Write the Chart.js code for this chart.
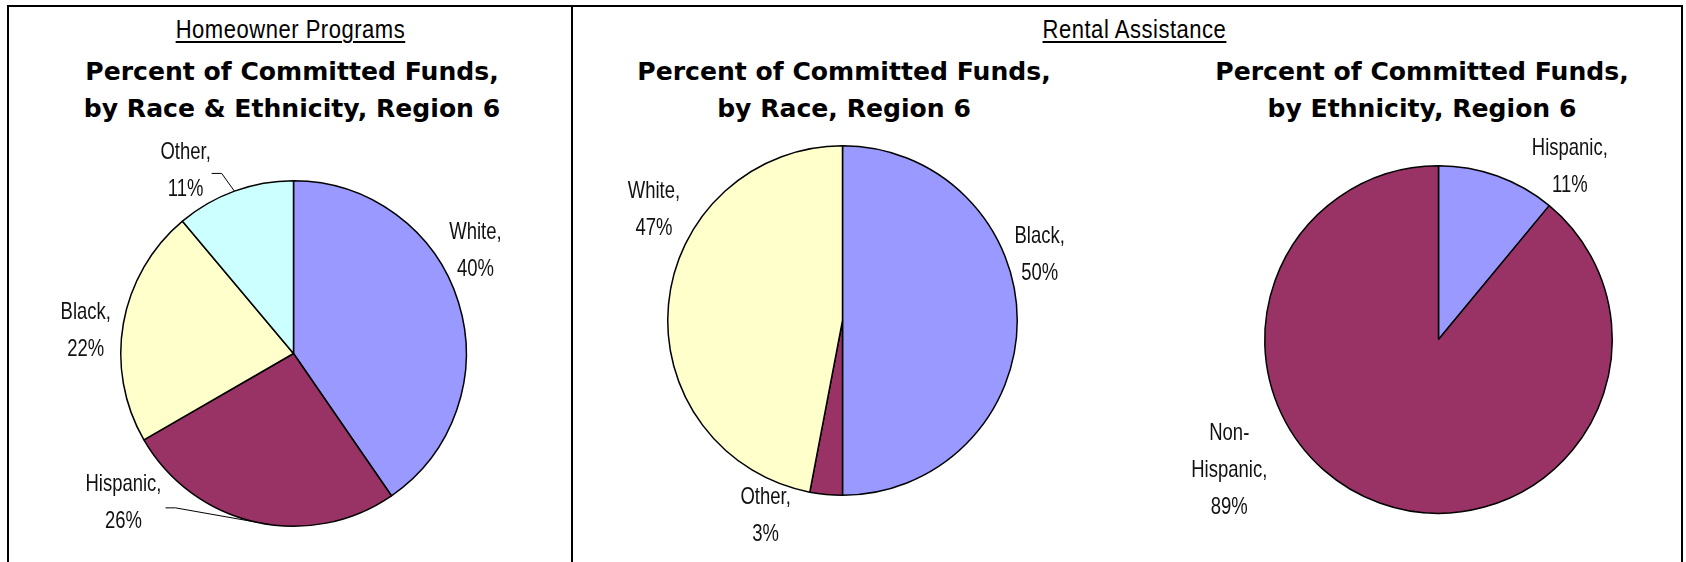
<!DOCTYPE html>
<html>
<head>
<meta charset="utf-8">
<script src="https://cdn.jsdelivr.net/npm/chart.js@4"></script>
<style>
  body { margin: 0; background: #fff; width: 1686px; height: 562px; overflow: hidden; position: relative; }
  .frame { position: absolute; left: 7px; top: 5px; width: 1672px; height: 600px; border: 2px solid #000; border-bottom: none; }
  .divider { position: absolute; left: 571px; top: 5px; width: 2px; height: 557px; background: #000; }
  .section { position: absolute; width: 600px; text-align: center; top: 14px; line-height: 30px;
    font-family: "Liberation Sans", Arial, sans-serif; font-size: 25px; letter-spacing: 0.6px; color: #000; }
  .section span { display: inline-block; transform: scaleX(0.88); text-decoration: underline;
    text-decoration-thickness: 2px; text-underline-offset: 3px; }
  .title { position: absolute; width: 600px; text-align: center; top: 54px; line-height: 36.5px;
    font-family: "DejaVu Sans", sans-serif; font-weight: bold; font-size: 25.1px; color: #000; }
  canvas { position: absolute; }
</style>
</head>
<body>
<div class="frame"></div>
<div class="divider"></div>

<div class="section" style="left:-10px"><span>Homeowner Programs</span></div>
<div class="section" style="left:834px"><span>Rental Assistance</span></div>

<div class="title" style="left:-8px">Percent of Committed Funds,<br>by Race &amp; Ethnicity, Region 6</div>
<div class="title" style="left:544px">Percent of Committed Funds,<br>by Race, Region 6</div>
<div class="title" style="left:1122px">Percent of Committed Funds,<br>by Ethnicity, Region 6</div>

<canvas id="home-chart" width="558" height="422" style="left:12px; top:140px"></canvas>
<canvas id="race-chart" width="550" height="422" style="left:574px; top:140px"></canvas>
<canvas id="eth-chart" width="557" height="432" style="left:1124px; top:130px"></canvas>

<script>
// homeowner programs, race & ethnicity
const homeCategories = ["White", "Hispanic", "Black", "Other"];
const homeValues = [40, 26, 22, 11];

// rental assistance, race
const raceCategories = ["Black", "Other", "White"];
const raceValues = [50, 3, 47];

// rental assistance, ethnicity
const ethCategories = ["Hispanic", "Non-Hispanic"];
const ethValues = [11, 89];

const BLUE = "#9999FF";
const PLUM = "#993366";
const CREAM = "#FFFFCC";
const AQUA = "#CCFFFF";

// narrow look: regular sans squeezed sideways
const LABEL_FONT = '24px "Liberation Sans", Arial, sans-serif';
const LABEL_SQUEEZE = 0.77;
const LINE_GAP = 37;

function labelLines(name, value) {
  let lines;
  if (name.includes("-")) {
    const cut = name.indexOf("-") + 1;
    lines = [name.slice(0, cut), name.slice(cut) + ","];
  } else {
    lines = [name + ","];
  }
  lines.push(value + "%");
  return lines;
}

// draws "Name, / NN%" outside each slice, with optional leader lines
const outsideLabels = {
  id: "outsideLabels",
  afterDatasetsDraw(chart, args, opts) {
    const ctx = chart.ctx;
    const meta = chart.getDatasetMeta(0);
    const values = chart.data.datasets[0].data;
    ctx.save();
    ctx.font = LABEL_FONT;
    ctx.fillStyle = "#111";
    ctx.textAlign = "center";
    ctx.textBaseline = "middle";
    meta.data.forEach((arc, i) => {
      const p = arc.getProps(["x", "y", "outerRadius", "startAngle", "endAngle"], true);
      const a = (opts.angles[i] * Math.PI) / 180;
      const dist = p.outerRadius * opts.dists[i];
      const lx = p.x + dist * Math.sin(a);
      const ly = p.y - dist * Math.cos(a);
      const lines = labelLines(chart.data.labels[i], values[i]);
      lines.forEach((line, k) => {
        ctx.save();
        ctx.translate(lx, ly + (k - (lines.length - 1) / 2) * LINE_GAP);
        ctx.scale(LABEL_SQUEEZE, 1);
        ctx.fillText(line, 0, 0);
        ctx.restore();
      });
      const leader = opts.leaders && opts.leaders[i];
      if (leader) {
        const mid = (p.startAngle + p.endAngle) / 2;
        ctx.beginPath();
        ctx.strokeStyle = "#000";
        ctx.lineWidth = 1;
        ctx.moveTo(lx + leader[0], ly + leader[1]);
        ctx.lineTo(lx + leader[0] + 10, ly + leader[1]);
        ctx.lineTo(p.x + p.outerRadius * Math.cos(mid), p.y + p.outerRadius * Math.sin(mid));
        ctx.stroke();
      }
    });
    ctx.restore();
  },
};

function makePie(canvasId, categories, values, colors, padding, labelOpts) {
  return new Chart(document.getElementById(canvasId), {
    type: "pie",
    data: {
      labels: categories,
      datasets: [
        {
          data: values,
          backgroundColor: colors,
          borderColor: "#000",
          borderWidth: 1.5,
        },
      ],
    },
    options: {
      responsive: false,
      animation: false,
      layout: { padding: padding },
      plugins: {
        legend: { display: false },
        tooltip: { enabled: false },
        outsideLabels: labelOpts,
      },
    },
    plugins: [outsideLabels],
  });
}

makePie(
  "home-chart",
  homeCategories,
  homeValues,
  [BLUE, PLUM, CREAM, AQUA],
  { left: 108, right: 103, top: 40, bottom: 35 },
  {
    angles: [60.5, 228.7, 276.3, 329.5],
    dists: [1.21, 1.31, 1.21, 1.23],
    leaders: [null, [42, 5], null, [26, 3]],
  }
);

makePie(
  "race-chart",
  raceCategories,
  raceValues,
  [BLUE, PLUM, CREAM],
  { left: 93, right: 106, top: 5, bottom: 66 },
  {
    angles: [71.5, 201.5, 300.3],
    dists: [1.19, 1.2, 1.25],
  }
);

makePie(
  "eth-chart",
  ethCategories,
  ethValues,
  [BLUE, PLUM],
  { left: 140, right: 68, top: 35, bottom: 48 },
  {
    angles: [37.2, 238],
    dists: [1.25, 1.42],
  }
);
</script>
</body>
</html>
